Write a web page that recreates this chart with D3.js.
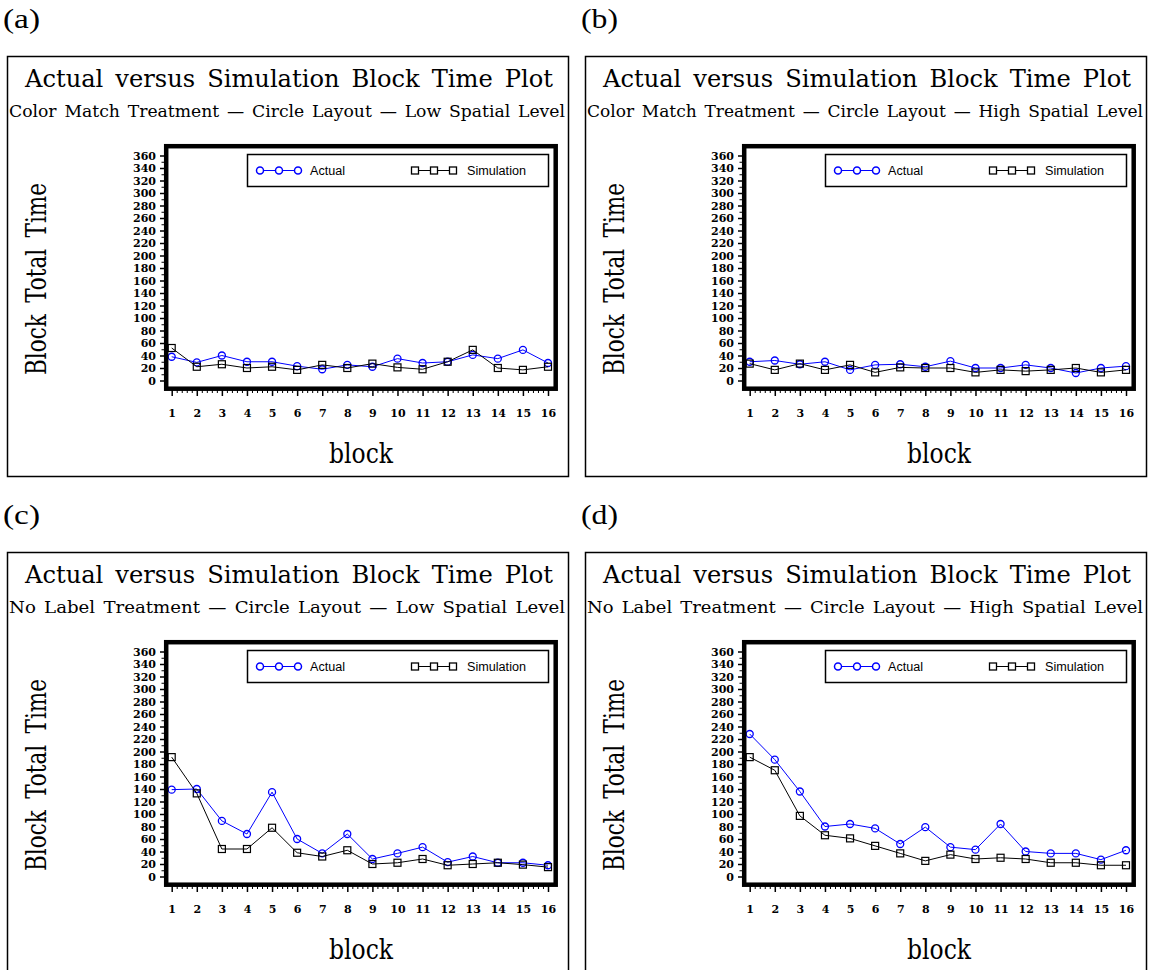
<!DOCTYPE html>
<html>
<head>
<meta charset="utf-8">
<script src="https://cdn.jsdelivr.net/npm/d3@7/dist/d3.min.js"></script>
<style>
  body { margin: 0; background: #fff; }
</style>
</head>
<body>
<div id="chart"></div>
<script>
// block numbers on the x axis
const blocks = [1, 2, 3, 4, 5, 6, 7, 8, 9, 10, 11, 12, 13, 14, 15, 16]
const yTicks = [0, 20, 40, 60, 80, 100, 120, 140, 160, 180, 200, 220, 240, 260, 280, 300, 320, 340, 360]

const panelLetters = ["(a)", "(b)", "(c)", "(d)"]
const panelTitle = "Actual versus Simulation Block Time Plot"
const subtitles = [
  "Color Match Treatment \u2014 Circle Layout \u2014 Low Spatial Level",
  "Color Match Treatment \u2014 Circle Layout \u2014 High Spatial Level",
  "No Label Treatment \u2014 Circle Layout \u2014 Low Spatial Level",
  "No Label Treatment \u2014 Circle Layout \u2014 High Spatial Level"
]

// values
const actualA = [38, 29, 40, 30, 30, 23, 18, 25, 22, 35, 28, 30, 41, 35, 49, 28]
const simA    = [52, 22, 26, 20, 22, 17, 25, 20, 27, 21, 18, 30, 49, 20, 17, 22]
const actualB = [30, 32, 26, 30, 17, 25, 26, 22, 31, 20, 20, 25, 20, 12, 20, 23]
const simB    = [27, 17, 27, 17, 25, 13, 21, 20, 20, 13, 17, 15, 17, 20, 13, 17]
const actualC = [139, 140, 89, 68, 135, 60, 37, 68, 28, 37, 47, 23, 32, 22, 22, 18]
const simC    = [191, 133, 44, 44, 78, 38, 32, 42, 20, 22, 28, 18, 20, 22, 19, 15]
const actualD = [228, 187, 136, 80, 84, 77, 52, 79, 47, 43, 84, 40, 37, 37, 27, 42]
const simD    = [191, 170, 97, 66, 61, 49, 37, 25, 35, 28, 30, 28, 22, 22, 18, 18]

const blue = "#0000ff"
const serif = "'DejaVu Serif', serif"
const tickFont = "'DejaVu Serif', serif"

const svg = d3.select("#chart")
  .append("svg")
    .attr("width", 1151)
    .attr("height", 970)
    .attr("style", "background-color: white;")

const panels = [
  {letter: panelLetters[0], sub: subtitles[0], actual: actualA, sim: simA, dx: 0, dy: 0},
  {letter: panelLetters[1], sub: subtitles[1], actual: actualB, sim: simB, dx: 578, dy: 0},
  {letter: panelLetters[2], sub: subtitles[2], actual: actualC, sim: simC, dx: 0, dy: 496},
  {letter: panelLetters[3], sub: subtitles[3], actual: actualD, sim: simD, dx: 578, dy: 496}
]

function drawPanel(p) {
  const g = svg.append("g").attr("transform", `translate(${p.dx}, ${p.dy})`)

  g.append("text")
    .attr("x", 3).attr("y", 28)
    .attr("font-family", "'Liberation Serif', serif")
    .attr("font-size", 27)
    .attr("textLength", 37).attr("lengthAdjust", "spacingAndGlyphs")
    .text(p.letter)

  // outer box
  g.append("rect")
    .attr("x", 7.5).attr("y", 56.5)
    .attr("width", 561).attr("height", 420)
    .attr("fill", "none").attr("stroke", "#000").attr("stroke-width", 1.5)

  g.append("text")
    .attr("x", 289).attr("y", 87)
    .attr("text-anchor", "middle")
    .attr("font-family", serif).attr("font-size", 24.5)
    .attr("font-stretch", "condensed")
    .attr("word-spacing", 4)
    .attr("textLength", 528).attr("lengthAdjust", "spacingAndGlyphs")
    .text(panelTitle)

  g.append("text")
    .attr("x", 287).attr("y", 117)
    .attr("text-anchor", "middle")
    .attr("font-family", serif).attr("font-size", 16)
    .attr("font-stretch", "condensed")
    .attr("word-spacing", 2)
    .attr("textLength", 556).attr("lengthAdjust", "spacingAndGlyphs")
    .text(p.sub)

  const x = d3.scaleLinear().domain([1, 16]).range([171.7, 548])
  const y = d3.scaleLinear().domain([0, 360]).range([380.5, 155.5])

  // y axis, major and minor ticks
  const yAxis = g.append("g")
    .attr("transform", "translate(164, 0)")
    .call(d3.axisLeft(y).tickValues(yTicks).tickSize(4).tickPadding(4))
  yAxis.select(".domain").remove()
  yAxis.selectAll("text")
    .attr("font-family", tickFont).attr("font-size", 11).attr("font-weight", "bold")
  yAxis.selectAll("line").attr("stroke-width", 1.5)

  const yMinor = g.append("g")
    .attr("transform", "translate(164, 0)")
    .call(d3.axisLeft(y).tickValues(yTicks.slice(1).map(v => v - 10)).tickSize(2.5).tickFormat(""))
  yMinor.select(".domain").remove()

  // x axis
  const xAxis = g.append("g")
    .attr("transform", "translate(0, 390)")
    .call(d3.axisBottom(x).tickValues(blocks).tickSize(6))
  xAxis.select(".domain").remove()
  xAxis.selectAll("text")
    .attr("y", 27).attr("dy", null)
    .attr("font-family", tickFont).attr("font-size", 11).attr("font-weight", "bold")
  xAxis.selectAll("line").attr("stroke-width", 1.5)

  const minorX = blocks.slice(0, -1).flatMap(b => [0.2, 0.4, 0.6, 0.8].map(f => b + f))
  const xMinor = g.append("g")
    .attr("transform", "translate(0, 390)")
    .call(d3.axisBottom(x).tickValues(minorX).tickSize(3).tickFormat(""))
  xMinor.select(".domain").remove()

  // series
  const line = d3.line().x((d, i) => x(blocks[i])).y(d => y(d))

  g.append("path")
    .datum(p.actual)
    .attr("d", line)
    .attr("fill", "none").attr("stroke", blue).attr("stroke-width", 1)

  g.selectAll(".act")
    .data(p.actual)
    .join("circle")
      .attr("class", "act")
      .attr("cx", (d, i) => x(blocks[i]))
      .attr("cy", d => y(d))
      .attr("r", 3.5)
      .attr("fill", "none").attr("stroke", blue).attr("stroke-width", 1.3)

  g.append("path")
    .datum(p.sim)
    .attr("d", line)
    .attr("fill", "none").attr("stroke", "#000").attr("stroke-width", 1)

  g.selectAll(".sim")
    .data(p.sim)
    .join("rect")
      .attr("class", "sim")
      .attr("x", (d, i) => x(blocks[i]) - 3.5)
      .attr("y", d => y(d) - 3.5)
      .attr("width", 7).attr("height", 7)
      .attr("fill", "none").attr("stroke", "#000").attr("stroke-width", 1.2)

  // thick plot frame
  g.append("rect")
    .attr("x", 166.2).attr("y", 146.2)
    .attr("width", 389.5).attr("height", 242.5)
    .attr("fill", "none").attr("stroke", "#000").attr("stroke-width", 4.5)

  // legend
  const lg = g.append("g")
  lg.append("rect")
    .attr("x", 247.5).attr("y", 154.5)
    .attr("width", 301).attr("height", 32)
    .attr("fill", "none").attr("stroke", "#000").attr("stroke-width", 1.5)

  const actMarks = [260, 279, 298]
  lg.append("line").attr("x1", 260).attr("x2", 298).attr("y1", 170.5).attr("y2", 170.5)
    .attr("stroke", blue).attr("stroke-width", 1.2)
  lg.selectAll(".la").data(actMarks).join("circle").attr("class", "la")
    .attr("cx", d => d).attr("cy", 170.5).attr("r", 3.5)
    .attr("fill", "#fff").attr("stroke", blue).attr("stroke-width", 1.5)
  lg.append("text").attr("x", 310).attr("y", 175)
    .attr("font-family", "'Liberation Sans', sans-serif").attr("font-size", 12)
    .attr("textLength", 35).attr("lengthAdjust", "spacingAndGlyphs")
    .text("Actual")

  const simMarks = [415, 434, 453]
  lg.append("line").attr("x1", 415).attr("x2", 453).attr("y1", 170.5).attr("y2", 170.5)
    .attr("stroke", "#000").attr("stroke-width", 1.2)
  lg.selectAll(".ls").data(simMarks).join("rect").attr("class", "ls")
    .attr("x", d => d - 3.5).attr("y", 167).attr("width", 7).attr("height", 7)
    .attr("fill", "#fff").attr("stroke", "#000").attr("stroke-width", 1.3)
  lg.append("text").attr("x", 467).attr("y", 175)
    .attr("font-family", "'Liberation Sans', sans-serif").attr("font-size", 12)
    .attr("textLength", 59).attr("lengthAdjust", "spacingAndGlyphs")
    .text("Simulation")

  // axis titles
  g.append("text")
    .attr("transform", "translate(46, 279) rotate(-90)")
    .attr("text-anchor", "middle")
    .attr("font-family", serif).attr("font-size", 28)
    .attr("word-spacing", 6)
    .attr("textLength", 192).attr("lengthAdjust", "spacingAndGlyphs")
    .text("Block Total Time")

  g.append("text")
    .attr("x", 361).attr("y", 463)
    .attr("text-anchor", "middle")
    .attr("font-family", serif).attr("font-size", 28)
    .attr("textLength", 64).attr("lengthAdjust", "spacingAndGlyphs")
    .text("block")
}

panels.forEach(drawPanel)
</script>
</body>
</html>
